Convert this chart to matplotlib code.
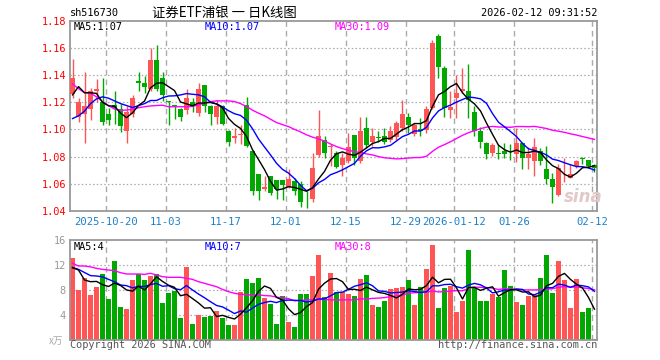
import numpy as np
import pandas as pd
import matplotlib
matplotlib.use("Agg")
import matplotlib.pyplot as plt

# ---------------- data ----------------
code = "sh516730"
title = "证券ETF浦银 一 日K线图"
stamp = "2026-02-12 09:31:52"
tick_idx = [6, 16, 26, 36, 46, 56, 64, 74, 87]
tick_labels = ["2025-10-20", "11-03", "11-17", "12-01", "12-15", "12-29",
               "2026-01-12", "01-26", "02-12"]

opens = [1.126, 1.109, 1.111, 1.115, 1.128, 1.120, 1.111, 1.118, 1.115, 1.099,
         1.111, 1.1356, 1.134, 1.130, 1.151, 1.138, 1.121, 1.118, 1.115, 1.114,
         1.1205, 1.112, 1.1327, 1.1176, 1.109, 1.117, 1.099, 1.094, 1.0956, 1.118,
         1.0845, 1.067, 1.0565, 1.066, 1.0625, 1.063, 1.058, 1.062, 1.060, 1.049,
         1.049, 1.0815, 1.0925, 1.087, 1.0828, 1.0735, 1.0767, 1.0956, 1.0767, 1.1007,
         1.0907, 1.0946, 1.095, 1.0926, 1.0946, 1.1012, 1.1093, 1.0963, 1.100, 1.0995,
         1.116, 1.169, 1.1453, 1.1142, 1.1228, 1.128, 1.1283, 1.1127, 1.0988, 1.0902,
         1.0828, 1.0828, 1.0845, 1.0823, 1.0816, 1.0902, 1.079, 1.0767, 1.0845, 1.0706,
         1.0632, 1.0517, 1.0655, 1.0645, 1.073, 1.0789, 1.0772, 1.0735]
highs = [1.152, 1.123, 1.142, 1.1305, 1.137, 1.138, 1.116, 1.128, 1.119, 1.117,
         1.125, 1.142, 1.139, 1.160, 1.162, 1.142, 1.121, 1.118, 1.116, 1.130,
         1.123, 1.134, 1.1327, 1.118, 1.122, 1.118, 1.0995, 1.101, 1.103, 1.124,
         1.085, 1.067, 1.0657, 1.066, 1.063, 1.063, 1.071, 1.064, 1.062, 1.055,
         1.083, 1.114, 1.095, 1.089, 1.084, 1.083, 1.0975, 1.096, 1.1093, 1.109,
         1.101, 1.099, 1.101, 1.1024, 1.106, 1.122, 1.1122, 1.105, 1.1086, 1.117,
         1.166, 1.170, 1.147, 1.128, 1.140, 1.145, 1.148, 1.117, 1.102, 1.0905,
         1.090, 1.089, 1.090, 1.089, 1.1012, 1.0905, 1.087, 1.0934, 1.086, 1.088,
         1.068, 1.0743, 1.079, 1.0743, 1.0775, 1.080, 1.0775, 1.0743]
lows = [1.123, 1.1055, 1.090, 1.107, 1.120, 1.103, 1.103, 1.104, 1.098, 1.090,
        1.109, 1.128, 1.1266, 1.128, 1.128, 1.121, 1.103, 1.108, 1.106, 1.111,
        1.113, 1.110, 1.113, 1.103, 1.104, 1.103, 1.088, 1.090, 1.089, 1.087,
        1.052, 1.048, 1.0546, 1.052, 1.049, 1.048, 1.057, 1.052, 1.043, 1.0425,
        1.0465, 1.080, 1.079, 1.073, 1.072, 1.0655, 1.0755, 1.074, 1.075, 1.0865,
        1.0877, 1.0906, 1.089, 1.0907, 1.0926, 1.0987, 1.0975, 1.095, 1.095, 1.0975,
        1.115, 1.138, 1.109, 1.1086, 1.1086, 1.127, 1.1085, 1.095, 1.0865, 1.078,
        1.0805, 1.078, 1.079, 1.0772, 1.076, 1.071, 1.071, 1.0657, 1.074, 1.0595,
        1.046, 1.051, 1.0615, 1.064, 1.072, 1.0743, 1.0718, 1.0686]
closes = [1.138, 1.120, 1.117, 1.128, 1.1295, 1.1055, 1.107, 1.1155, 1.1025, 1.113,
          1.123, 1.1343, 1.1315, 1.151, 1.130, 1.125, 1.120, 1.117, 1.109, 1.123,
          1.118, 1.130, 1.1173, 1.111, 1.1175, 1.104, 1.091, 1.095, 1.0963, 1.088,
          1.055, 1.055, 1.058, 1.053, 1.056, 1.059, 1.0635, 1.055, 1.0466, 1.0485,
          1.072, 1.0955, 1.083, 1.0877, 1.0725, 1.0787, 1.087, 1.079, 1.0992, 1.0882,
          1.095, 1.0938, 1.0907, 1.0992, 1.1044, 1.111, 1.1036, 1.1036, 1.0988, 1.1154,
          1.1637, 1.1458, 1.1159, 1.1166, 1.127, 1.1296, 1.122, 1.0988, 1.0907, 1.0823,
          1.0885, 1.0818, 1.0823, 1.0816, 1.0902, 1.0791, 1.082, 1.0872, 1.0767, 1.0632,
          1.0576, 1.0713, 1.066, 1.0669, 1.077, 1.078, 1.073, 1.0715]
volumes = [13.17, 8.0, 9.97, 7.2, 8.53, 10.56, 6.56, 12.64, 5.33, 4.96,
           9.6, 10.56, 9.6, 10.24, 10.56, 5.92, 7.52, 7.89, 3.52, 11.68,
           2.56, 4.0, 3.73, 3.84, 4.64, 3.52, 2.4, 2.4, 7.68, 9.76,
           9.12, 9.92, 6.72, 5.76, 2.56, 7.04, 2.88, 2.08, 7.36, 7.36,
           10.24, 13.6, 6.88, 10.72, 7.73, 7.73, 7.36, 7.04, 9.76, 10.4,
           5.6, 5.28, 6.24, 8.16, 8.37, 8.48, 9.6, 5.6, 8.48, 11.36,
           15.2, 5.12, 8.32, 8.64, 4.48, 6.24, 14.4, 8.32, 6.24, 6.24,
           7.36, 6.88, 11.2, 8.64, 6.08, 5.6, 7.04, 7.2, 9.92, 13.6,
           7.52, 12.64, 9.6, 5.12, 9.76, 4.48, 5.12, 0.16]

# moving-average values before a full window exists
ma5_head = [1.1254, 1.1315, 1.127, 1.127]
ma10_head = [1.108, 1.110, 1.1135, 1.119, 1.1225, 1.124, 1.123, 1.121, 1.119]
ma30_head = [1.1335, 1.130, 1.127, 1.1266, 1.124, 1.1205, 1.1175, 1.115, 1.114, 1.1143,
             1.1148, 1.116, 1.1167, 1.1173, 1.1176, 1.1178, 1.1167, 1.1167, 1.1167, 1.1167,
             1.117, 1.118, 1.1195, 1.1205, 1.121, 1.121, 1.121, 1.1205, 1.119]
vma5_head = [11.57, 11.2, 9.6, 9.33]
vma10_head = [11.6, 11.3, 10.8, 10.3, 10.24, 10.1, 9.7, 9.33, 8.8]
vma30_head = [12.27, 11.84, 11.84, 11.7, 11.47, 11.3, 11.2, 11.1, 10.77, 10.56,
              10.56, 10.56, 10.5, 10.67, 10.4, 10.13, 10.03, 10.03, 10.03, 9.87,
              9.7, 9.33, 9.07, 8.8, 8.53, 8.1, 7.73, 7.47, 7.3]

# ---------------- helpers ----------------
def moving(values, win, head):
    m = pd.Series(values).rolling(win).mean().to_numpy()
    m[:win - 1] = head
    return m

O = np.array(opens); Hh = np.array(highs); L = np.array(lows); C = np.array(closes)
V = np.array(volumes)
n = len(C)
idx = np.arange(n)
ma5, ma10, ma30 = moving(C, 5, ma5_head), moving(C, 10, ma10_head), moving(C, 30, ma30_head)
vma5, vma10, vma30 = moving(V, 5, vma5_head), moving(V, 10, vma10_head), moving(V, 30, vma30_head)

RED = "#ff5555"
GREEN = "#00a800"
BLUE = "#0000ff"
MAG = "#ff00ff"
GRID = "#aaaaaa"
SPINE = "#999999"
MONO = "DejaVu Sans Mono"

W, Hpx = 660, 360
fig = plt.figure(figsize=(6.6, 3.6), dpi=100)
fig.patch.set_facecolor("white")


def fx(x):
    return x / W


def fy(y):
    return 1 - y / Hpx


axp = fig.add_axes([fx(70), fy(211), fx(597) - fx(70), fy(20.7) - fy(211)])
axv = fig.add_axes([fx(70), fy(340), fx(597) - fx(70), fy(240) - fy(340)])

xlo, xhi = -0.42, n - 1 + 0.42
tick_pos = [t - 0.4 for t in tick_idx]

for ax in (axp, axv):
    ax.set_xlim(xlo, xhi)
    for s in ax.spines.values():
        s.set_color(SPINE)
        s.set_linewidth(1.3)
    ax.tick_params(length=0)
    for t in tick_pos:
        ax.axvline(t, color=GRID, lw=1.0, ls=(0, (4, 3)), zorder=0)

# ---- price panel ----
up = C >= O
cols = np.where(up, RED, GREEN)
axp.vlines(idx, L, Hh, colors=cols, linewidth=1.0, zorder=2)
body_bottom = np.minimum(O, C)
body_h = np.maximum(np.abs(C - O), 0.0006)
axp.bar(idx, body_h, bottom=body_bottom, width=0.82, color=cols, linewidth=0, zorder=3)
axp.plot(idx, ma30, color=MAG, lw=1.0, zorder=4)
axp.plot(idx, ma10, color=BLUE, lw=1.0, zorder=4)
axp.plot(idx, ma5, color="black", lw=1.0, zorder=5)

yt = np.round(np.arange(1.04, 1.1801, 0.02), 2)
axp.set_ylim(1.04, 1.18)
axp.set_yticks(yt)
axp.set_yticklabels([f"{v:.2f}" for v in yt], color="red", fontsize=7.4, family=MONO)
for v in yt[1:-1]:
    axp.axhline(v, color=GRID, lw=0.9, ls=(0, (1.2, 1.8)), zorder=0)
axp.set_xticks(tick_pos)
axp.set_xticklabels(tick_labels, color="#1c80c8", fontsize=7.6, family=MONO)
axp.tick_params(axis="y", pad=3)
axp.tick_params(axis="x", pad=4)

# ---- volume panel ----
vcols = cols
axv.bar(idx, V, width=0.84, color=vcols, linewidth=0, zorder=2)
axv.plot(idx, vma30, color=MAG, lw=1.0, zorder=4)
axv.plot(idx, vma10, color=BLUE, lw=1.0, zorder=4)
axv.plot(idx, vma5, color="black", lw=1.0, zorder=5)
axv.set_ylim(0, 16)
vt = [4, 8, 12, 16]
axv.set_yticks(vt)
axv.set_yticklabels([str(v) for v in vt], color="#999999", fontsize=7.4, family=MONO)
for v in [4, 8, 12]:
    axv.axhline(v, color=GRID, lw=0.9, ls=(0, (1.2, 1.8)), zorder=0)
axv.set_xticks([])
axv.tick_params(axis="y", pad=3)

# ---- texts ----
fig.text(fx(70), fy(13.5), code, fontsize=7.4, family=MONO, ha="left", va="center")
fig.text(fx(224), fy(13), title, fontsize=9.6, family=["Noto Sans CJK SC", "DejaVu Sans"],
         ha="center", va="center")
fig.text(fx(597), fy(13.5), stamp, fontsize=7.4, family=MONO, ha="right", va="center")

fig.text(fx(74), fy(26.5), f"MA5:{ma5[-1]:.2f}", fontsize=7.4, family=MONO,
         color="black", va="center")
fig.text(fx(205), fy(26.5), f"MA10:{ma10[-1]:.2f}", fontsize=7.4, family=MONO,
         color=BLUE, va="center")
fig.text(fx(335), fy(26.5), f"MA30:{ma30[-1]:.2f}", fontsize=7.4, family=MONO,
         color=MAG, va="center")

fig.text(fx(74), fy(247), f"MA5:{int(vma5[-1])}", fontsize=7.4, family=MONO,
         color="black", va="center")
fig.text(fx(205), fy(247), f"MA10:{int(vma10[-1])}", fontsize=7.4, family=MONO,
         color=BLUE, va="center")
fig.text(fx(335), fy(247), f"MA30:{int(vma30[-1])}", fontsize=7.4, family=MONO,
         color=MAG, va="center")

fig.text(fx(49), fy(341), "x万", fontsize=7, color="#aaaaaa", style="italic",
         family=["Noto Sans CJK SC", "DejaVu Sans"], ha="left", va="center")
fig.text(fx(70), fy(345.5), "Copyright 2026 SINA.COM", fontsize=7.4, family=MONO,
         color="#555555", ha="left", va="center")
fig.text(fx(597), fy(345.5), "http://finance.sina.com.cn", fontsize=7.4, family=MONO,
         color="#555555", ha="right", va="center")
fig.text(fx(583), fy(197), "sina", fontsize=12, style="italic", weight="bold",
         color="#e2c8c8", ha="center", va="center", family="DejaVu Sans")

fig.savefig("out.png", dpi=100, facecolor="white")
